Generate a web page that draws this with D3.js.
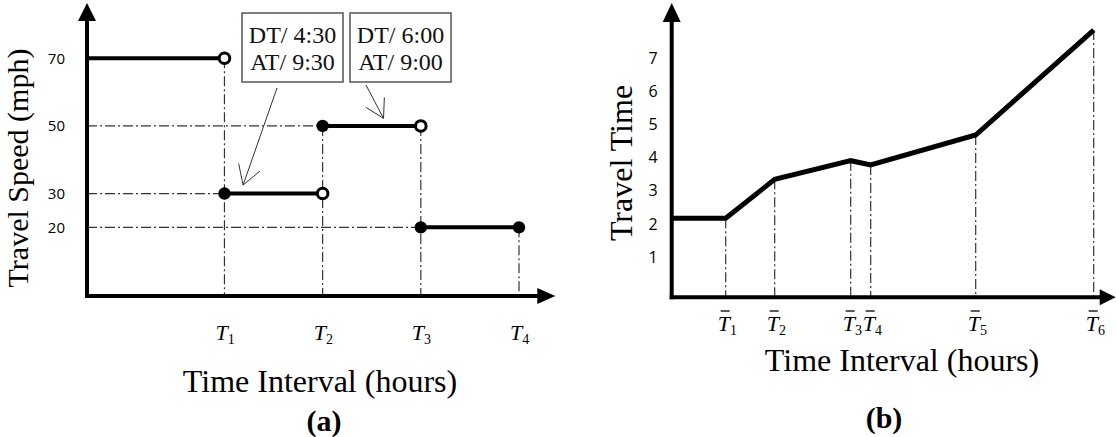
<!DOCTYPE html>
<html>
<head>
<meta charset="utf-8">
<script src="https://cdn.jsdelivr.net/npm/d3@7"></script>
<style>
  html, body { margin: 0; padding: 0; background: #fff; }
  svg { display: block; }
</style>
</head>
<body>
<div id="chart"></div>
<script>
// ---------------- DATA ----------------
// Panel (a): travel speed step function
const speedTicks = [70, 50, 30, 20];
const tNamesA = ["1", "2", "3", "4"];
const tPosA = [1.4, 2.4, 3.4, 4.4];
const segStart = [0, 1.4, 2.4, 3.4];
const segEnd = [1.4, 2.4, 3.4, 4.4];
const speeds = [70, 30, 50, 20];
const startMark = ["none", "filled", "filled", "filled"];
const endMark = ["open", "open", "open", "filled"];
// callouts
const calloutLines = [["DT/ 4:30", "AT/ 9:30"], ["DT/ 6:00", "AT/ 9:00"]];
const calloutTargetX = [1.59, 3.02];
const calloutTargetSpeed = [30, 50];

// Panel (b): travel time piecewise linear
const timeTicks = [1, 2, 3, 4, 5, 6, 7];
const tNamesB = ["1", "2", "3", "4", "5", "6"];
const tBar = [0.54, 1.03, 1.79, 1.99, 3.04, 4.22];
const timeAtStart = 2.17;
const travelTimes = [2.17, 3.345, 3.906, 3.776, 4.68, 7.84];

// ---------------- SETUP ----------------
const W = 1116, H = 437;
const svg = d3.select("#chart").append("svg").attr("width", W).attr("height", H);
const SERIF = "'Liberation Serif', 'Times New Roman', serif";
const SANS = "'Open Sans', 'Liberation Sans', sans-serif";
const GUIDE = "#333";
const DASH = "10,3,2,3";

function arrowHead(g, tipX, tipY, dir, len, halfW) {
  let pts;
  if (dir === "up") pts = [[tipX, tipY], [tipX - halfW, tipY + len], [tipX + halfW, tipY + len]];
  else pts = [[tipX, tipY], [tipX - len, tipY - halfW], [tipX - len, tipY + halfW]];
  g.append("path").attr("d", d3.line()(pts) + "Z").attr("fill", "#000");
}

function openArrow(g, x1, y1, x2, y2, len, angDeg) {
  g.append("line").attr("x1", x1).attr("y1", y1).attr("x2", x2).attr("y2", y2)
    .attr("stroke", "#333").attr("stroke-width", 1);
  const a = Math.atan2(y1 - y2, x1 - x2);
  const da = angDeg * Math.PI / 180;
  [a - da, a + da].forEach(t => {
    g.append("line").attr("x1", x2).attr("y1", y2)
      .attr("x2", x2 + len * Math.cos(t)).attr("y2", y2 + len * Math.sin(t))
      .attr("stroke", "#333").attr("stroke-width", 1);
  });
}

// ---------------- PANEL A ----------------
const gA = svg.append("g");
const xA = d3.scaleLinear().domain([0, 4.4]).range([87, 519]);
const yA = d3.scaleLinear().domain([0, 70]).range([295, 58.3]);
const xAxisEndA = 4.77;
const yTopA = 3;

// guides (dash-dot)
segStart.forEach((s, i) => {
  if (startMark[i] !== "none") {
    gA.append("line").attr("x1", xA(0)).attr("x2", xA(s))
      .attr("y1", yA(speeds[i])).attr("y2", yA(speeds[i]))
      .attr("stroke", GUIDE).attr("stroke-width", 1.2).attr("stroke-dasharray", DASH);
  }
});
segEnd.forEach((e, i) => {
  const top = i + 1 < speeds.length ? Math.max(speeds[i], speeds[i + 1]) : speeds[i];
  gA.append("line").attr("x1", xA(e)).attr("x2", xA(e))
    .attr("y1", yA(top)).attr("y2", yA(0))
    .attr("stroke", GUIDE).attr("stroke-width", 1.2).attr("stroke-dasharray", DASH);
});

// axes
gA.append("line").attr("x1", xA(0)).attr("x2", xA(0)).attr("y1", yA(0) + 2).attr("y2", yTopA + 15)
  .attr("stroke", "#000").attr("stroke-width", 4);
arrowHead(gA, xA(0), yTopA, "up", 18, 9);
gA.append("line").attr("x1", xA(0) - 2).attr("x2", xA(xAxisEndA) - 15).attr("y1", yA(0) + 1).attr("y2", yA(0) + 1)
  .attr("stroke", "#000").attr("stroke-width", 4);
arrowHead(gA, xA(xAxisEndA), yA(0) + 1, "right", 18, 8);

// y tick labels
const axA = gA.append("g").attr("transform", `translate(${xA(0)},0)`)
  .call(d3.axisLeft(yA).tickValues(speedTicks).tickSize(0).tickPadding(22));
axA.select(".domain").remove();
axA.selectAll("text").attr("font-family", SANS).attr("font-size", 15).attr("fill", "#000");

// step segments
segStart.forEach((s, i) => {
  gA.append("line").attr("x1", xA(s)).attr("x2", xA(segEnd[i]))
    .attr("y1", yA(speeds[i])).attr("y2", yA(speeds[i]))
    .attr("stroke", "#000").attr("stroke-width", 4);
});
function marker(g, x, y, kind) {
  if (kind === "none") return;
  if (kind === "filled") g.append("circle").attr("cx", x).attr("cy", y).attr("r", 6.2).attr("fill", "#000");
  else g.append("circle").attr("cx", x).attr("cy", y).attr("r", 5.3).attr("fill", "#fff")
    .attr("stroke", "#000").attr("stroke-width", 3);
}
segStart.forEach((s, i) => {
  marker(gA, xA(s), yA(speeds[i]), startMark[i]);
  marker(gA, xA(segEnd[i]), yA(speeds[i]), endMark[i]);
});

// x tick labels T_i
tPosA.forEach((t, i) => {
  const tx = gA.append("text").attr("x", xA(t) - 9).attr("y", 340)
    .attr("font-family", SERIF).attr("font-style", "italic").attr("font-size", 22).attr("fill", "#000");
  tx.append("tspan").text("T");
  tx.append("tspan").attr("dy", 4).attr("font-size", 14).attr("font-style", "normal").text(tNamesA[i]);
});

// callouts
const boxX = [242, 350], boxY = 13, boxW = 101, boxH = 69;
calloutLines.forEach((lines, i) => {
  gA.append("rect").attr("x", boxX[i]).attr("y", boxY).attr("width", boxW).attr("height", boxH)
    .attr("fill", "#fff").attr("stroke", "#555").attr("stroke-width", 1.5);
  lines.forEach((ln, j) => {
    gA.append("text").attr("x", boxX[i] + boxW / 2).attr("y", boxY + 30 + j * 27)
      .attr("text-anchor", "middle").attr("font-family", SERIF).attr("font-size", 24)
      .attr("fill", "#111").text(ln);
  });
});
openArrow(gA, boxX[0] + 35, boxY + boxH + 6, xA(calloutTargetX[0]), yA(calloutTargetSpeed[0]) - 8.5, 22, 31);
openArrow(gA, boxX[1] + 16, boxY + boxH + 3, xA(calloutTargetX[1]), yA(calloutTargetSpeed[1]) - 7.5, 21, 30);

// titles
gA.append("text").attr("transform", "translate(28,168) rotate(-90)").attr("text-anchor", "middle")
  .attr("font-family", SERIF).attr("font-size", 30).attr("fill", "#000").text("Travel Speed (mph)");
gA.append("text").attr("x", 320).attr("y", 392).attr("text-anchor", "middle")
  .attr("font-family", SERIF).attr("font-size", 32).attr("fill", "#000").text("Time Interval (hours)");
gA.append("text").attr("x", 324).attr("y", 431).attr("text-anchor", "middle")
  .attr("font-family", SERIF).attr("font-weight", "bold").attr("font-size", 30).attr("fill", "#000").text("(a)");

// ---------------- PANEL B ----------------
const gB = svg.append("g");
const axisMinB = -0.21;
const xB = d3.scaleLinear().domain([0, 4.22]).range([671.7, 1093.7]);
const yB = d3.scaleLinear().domain([axisMinB, 7]).range([297.3, 58]);
const xAxisEndB = 4.44;
const yTopB = 3;

// guides
tBar.forEach((t, i) => {
  gB.append("line").attr("x1", xB(t)).attr("x2", xB(t))
    .attr("y1", yB(travelTimes[i])).attr("y2", yB(axisMinB))
    .attr("stroke", GUIDE).attr("stroke-width", 1.2).attr("stroke-dasharray", DASH);
});

// axes
gB.append("line").attr("x1", xB(0)).attr("x2", xB(0)).attr("y1", yB(axisMinB) + 2).attr("y2", yTopB + 15)
  .attr("stroke", "#000").attr("stroke-width", 4);
arrowHead(gB, xB(0), yTopB, "up", 19, 9);
gB.append("line").attr("x1", xB(0) - 2).attr("x2", xB(xAxisEndB) - 14).attr("y1", yB(axisMinB)).attr("y2", yB(axisMinB))
  .attr("stroke", "#000").attr("stroke-width", 4);
arrowHead(gB, xB(xAxisEndB), yB(axisMinB), "right", 16, 8);

const axB = gB.append("g").attr("transform", `translate(${xB(0)},0)`)
  .call(d3.axisLeft(yB).tickValues(timeTicks).tickSize(0).tickPadding(14).tickFormat(d3.format("d")));
axB.select(".domain").remove();
axB.selectAll("text").attr("font-family", SANS).attr("font-size", 16).attr("fill", "#000");

// travel time line
const pts = [[0, timeAtStart]].concat(tBar.map((t, i) => [t, travelTimes[i]]));
gB.append("path").attr("d", d3.line().x(d => xB(d[0])).y(d => yB(d[1]))(pts))
  .attr("fill", "none").attr("stroke", "#000").attr("stroke-width", 5).attr("stroke-linejoin", "miter");

// x tick labels T-bar_i
tBar.forEach((t, i) => {
  const x0 = xB(t) - 8;
  const tx = gB.append("text").attr("x", x0).attr("y", 331)
    .attr("font-family", SERIF).attr("font-style", "italic").attr("font-size", 22).attr("fill", "#000");
  tx.append("tspan").text("T");
  tx.append("tspan").attr("dy", 4).attr("font-size", 14).attr("font-style", "normal").text(tNamesB[i]);
  gB.append("line").attr("x1", x0 + 3).attr("x2", x0 + 12).attr("y1", 311).attr("y2", 311)
    .attr("stroke", "#000").attr("stroke-width", 1.3);
});

// titles
gB.append("text").attr("transform", "translate(632,163) rotate(-90)").attr("text-anchor", "middle")
  .attr("font-family", SERIF).attr("font-size", 32).attr("fill", "#000").text("Travel Time");
gB.append("text").attr("x", 902).attr("y", 371).attr("text-anchor", "middle")
  .attr("font-family", SERIF).attr("font-size", 32).attr("fill", "#000").text("Time Interval (hours)");
gB.append("text").attr("x", 884).attr("y", 428).attr("text-anchor", "middle")
  .attr("font-family", SERIF).attr("font-weight", "bold").attr("font-size", 30).attr("fill", "#000").text("(b)");
</script>
</body>
</html>
